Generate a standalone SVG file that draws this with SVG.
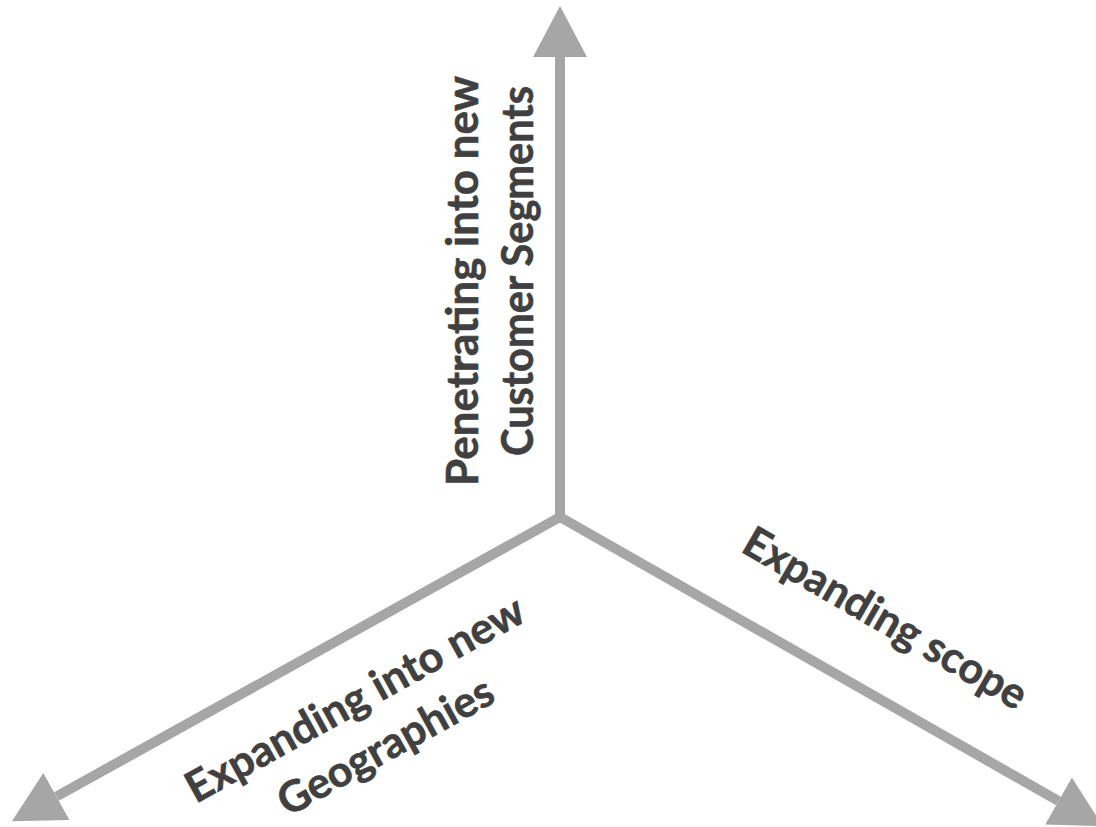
<svg xmlns="http://www.w3.org/2000/svg" width="1096" height="827" viewBox="0 0 1096 827">
<style>
.ax{stroke:#a6a6a6;stroke-width:10;fill:none;marker-end:url(#head)}
.lb{font-family:Lato,"Open Sans","Liberation Sans",sans-serif;font-weight:bold;font-size:43px;fill:#404040;stroke:#404040;stroke-width:0.6;text-anchor:middle}
</style>
<defs>
<marker id="head" markerUnits="userSpaceOnUse" markerWidth="52" markerHeight="54" viewBox="0 0 52 54" refX="0" refY="27" orient="auto">
<path d="M0,0 L51,27 L0,54 Z" fill="#a6a6a6"/>
</marker>
</defs>
<rect width="1096" height="827" fill="#ffffff"/>
<g id="connectors">
<line class="ax" x1="560" y1="520" x2="560" y2="57"/>
<line class="ax" x1="560" y1="517" x2="56.5" y2="796.5"/>
<line class="ax" x1="560" y1="517" x2="1058.5" y2="801"/>
</g>
<g id="node-segments" transform="translate(478,281) rotate(-90)">
<text class="lb" x="0" y="0" textLength="410" lengthAdjust="spacingAndGlyphs">Penetrating into new</text>
<text class="lb" x="10" y="55" textLength="370" lengthAdjust="spacingAndGlyphs">Customer Segments</text>
</g>
<g id="node-geographies" transform="translate(362,712) rotate(-29)">
<text class="lb" x="0" y="0" textLength="380" lengthAdjust="spacingAndGlyphs">Expanding into new</text>
<text class="lb" x="4" y="56" textLength="240" lengthAdjust="spacingAndGlyphs">Geographies</text>
</g>
<g id="node-scope" transform="translate(878,631) rotate(30)">
<text class="lb" x="0" y="0" textLength="320" lengthAdjust="spacingAndGlyphs">Expanding scope</text>
</g>
</svg>
